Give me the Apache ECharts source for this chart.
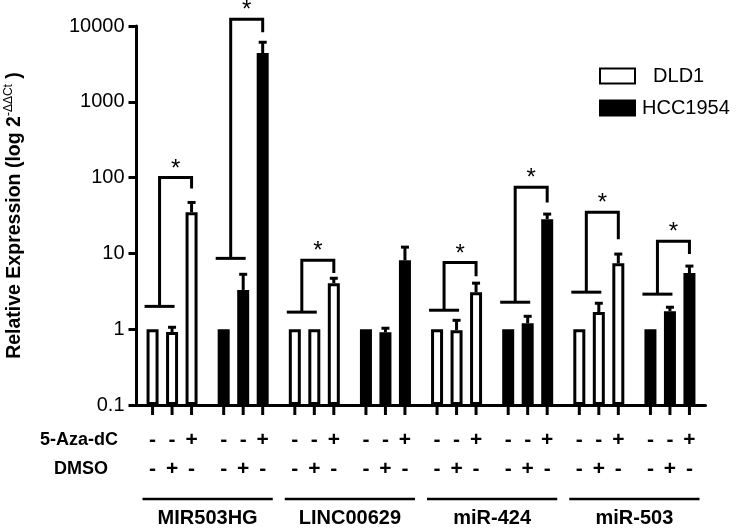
<!DOCTYPE html>
<html>
<head>
<meta charset="utf-8">
<script src="https://cdn.jsdelivr.net/npm/echarts@6/dist/echarts.min.js"></script>
<style>
  html, body { margin: 0; padding: 0; background: #fff; }
  #chart { width: 736px; height: 528px; }
</style>
</head>
<body>
<div id="chart"></div>
<script>
const genes = ['MIR503HG', 'LINC00629', 'miR-424', 'miR-503'];
const cellLines = ['DLD1', 'HCC1954'];
// one group per gene x cell line (DLD1 first, then HCC1954)
const groups = [
    'MIR503HG DLD1', 'MIR503HG HCC1954',
    'LINC00629 DLD1', 'LINC00629 HCC1954',
    'miR-424 DLD1', 'miR-424 HCC1954',
    'miR-503 DLD1', 'miR-503 HCC1954'
];
const azaSigns = ['-', '-', '+'];
const dmsoSigns = ['-', '+', '-'];

// mean relative expression per group
const untreated = [1, 1, 1, 1, 1, 1, 1, 1];
const dmso = [0.92, 3.3, 1.0, 0.91, 0.97, 1.2, 1.68, 1.73];
const aza = [35, 4400, 4.05, 8.1, 3.07, 28.3, 7.4, 5.5];
// upper end of error bars
const dmsoErr = [1.06, 5.3, null, 1.03, 1.31, 1.48, 2.2, 1.95];
const azaErr = [47, 6100, 4.7, 12.1, 4.05, 33, 9.8, 6.8];

// significance brackets (* p < 0.05)
const bracketLow = [2.0, 8.6, 1.68, null, 1.78, 2.27, 3.08, 2.9];
const bracketTop = [100, 12300, 8.1, null, 7.6, 74.6, 35, 14.5];
const bracketEnd = [72, 8300, 5.5, null, 5.0, 47, 15.4, 9.8];

const yTicks = [0.1, 1, 10, 100, 1000, 10000];
const yTickLabels = ['0.1', '1', '10', '100', '1000', '10000'];

const FONT = '"Liberation Sans", Arial, sans-serif';
const BAR_W = 12;
const BAR_STEP = 19.5;

const chart = echarts.init(document.getElementById('chart'));

function txt(x, y, s, size, weight) {
    return {
        type: 'text', x: x, y: y,
        style: {
            text: s, fill: '#000',
            font: (weight || 'bold') + ' ' + size + 'px ' + FONT,
            align: 'center', verticalAlign: 'middle'
        }
    };
}

function seg(points, w) {
    return {
        type: 'polyline',
        shape: { points: points },
        style: { stroke: '#000', lineWidth: w || 3, fill: null, lineJoin: 'miter', lineCap: 'butt' }
    };
}

function renderGroup(params, api) {
    const i = params.dataIndex;
    const p = api.coord([i, 0.1]);
    const cx = p[0], base = p[1];
    const band = api.size([1, 0])[0];
    const xs = [-1, 0, 1].map(k => cx + k * BAR_STEP);
    const means = [untreated[i], dmso[i], aza[i]];
    const errs = [null, dmsoErr[i], azaErr[i]];
    const kids = [];

    xs.forEach((x, k) => {
        kids.push(seg([[x, base], [x, base + 10]]));
        if (errs[k] != null) {
            const y0 = api.coord([i, means[k]])[1];
            const y1 = api.coord([i, errs[k]])[1];
            kids.push(seg([[x, y0], [x, y1]]));
            kids.push(seg([[x - 4, y1], [x + 4, y1]]));
        }
        kids.push(txt(x, base + 35, azaSigns[k], 21));
        kids.push(txt(x, base + 64, dmsoSigns[k], 21));
    });

    if (bracketLow[i] != null) {
        const yl = api.coord([i, bracketLow[i]])[1];
        const yt = api.coord([i, bracketTop[i]])[1];
        const ye = api.coord([i, bracketEnd[i]])[1];
        const xm = xs[0] + 7;
        kids.push(seg([[xm - 15, yl], [xm + 15, yl]]));
        kids.push(seg([[xm, yl], [xm, yt], [xs[2], yt], [xs[2], ye]]));
        kids.push(txt((xm + xs[2]) / 2, yt - 8.5, '*', 24, 'normal'));
    }

    // gene underline spans the DLD1 + HCC1954 pair
    if (i % 2 === 0) {
        kids.push(seg([[cx - band / 2 + 6, base + 94], [cx + band * 1.5 - 6, base + 94]], 2.5));
    }
    return { type: 'group', children: kids };
}

const barColor = p => (p.dataIndex % 2 ? '#000' : '#fff');
const barSeries = (name, data) => ({
    name: name,
    type: 'bar',
    data: data,
    barWidth: BAR_W,
    barGap: '62.5%',
    itemStyle: { color: barColor, borderColor: '#000', borderWidth: 3 }
});

const option = {
    animation: false,
    backgroundColor: '#fff',
    grid: { left: 136.5, right: 30.5, top: 26, bottom: 123, containLabel: false, outerBoundsMode: 'none' },
    legend: {
        data: cellLines,
        orient: 'vertical',
        left: 594, top: 61,
        icon: 'rect',
        itemWidth: 35, itemHeight: 15, itemGap: 12,
        selectedMode: false,
        formatter: n => (n === 'DLD1' ? '  DLD1' : n),
        textStyle: { fontSize: 20, color: '#000', fontFamily: FONT, padding: [0, 0, 0, 2] }
    },
    xAxis: [
        {
            type: 'category',
            data: groups,
            axisLine: { lineStyle: { color: '#000', width: 3 } },
            axisTick: { show: false },
            axisLabel: { show: false }
        },
        {
            type: 'category',
            data: genes,
            position: 'bottom',
            offset: 95,
            axisLine: { show: false },
            axisTick: { show: false },
            axisLabel: { margin: 8, fontSize: 20, fontWeight: 'bold', color: '#000', fontFamily: FONT }
        }
    ],
    yAxis: {
        type: 'log',
        logBase: 10,
        min: 0.1,
        max: 10000,
        startValue: 0.1,
        name: '{t|Relative Expression (log 2}{s|-ΔΔCt}{t| )}',
        nameLocation: 'middle',
        nameRotate: 90,
        nameGap: 112,
        nameTextStyle: {
            rich: {
                t: { fontSize: 19.5, fontWeight: 'bold', color: '#000', fontFamily: FONT, lineHeight: 22, verticalAlign: 'bottom' },
                s: { fontSize: 12, color: '#000', fontFamily: FONT, verticalAlign: 'top', lineHeight: 15 }
            }
        },
        splitLine: { show: false },
        axisLine: { show: true, lineStyle: { color: '#000', width: 3 } },
        axisTick: { show: true, length: 8, lineStyle: { color: '#000', width: 3 } },
        axisLabel: {
            margin: 12,
            fontSize: 20,
            color: '#000',
            fontFamily: FONT,
            formatter: v => {
                const idx = yTicks.findIndex(t => Math.abs(Math.log10(t) - Math.log10(v)) < 1e-6);
                return idx >= 0 ? yTickLabels[idx] : '';
            }
        }
    },
    graphic: [
        { type: 'text', x: 118, y: 440, style: { text: '5-Aza-dC', fill: '#000', font: 'bold 18px ' + FONT, align: 'right', verticalAlign: 'middle' } },
        { type: 'text', x: 108, y: 469, style: { text: 'DMSO', fill: '#000', font: 'bold 18px ' + FONT, align: 'right', verticalAlign: 'middle' } }
    ],
    series: [
        barSeries('untreated', untreated),
        barSeries('DMSO', dmso),
        barSeries('5-Aza-dC', aza),
        {
            name: 'marks',
            type: 'custom',
            renderItem: renderGroup,
            data: groups.map((g, i) => [i, aza[i]]),
            encode: { x: 0, y: 1 },
            clip: false,
            z: 5
        },
        { name: 'DLD1', type: 'scatter', data: [], itemStyle: { color: '#fff', borderColor: '#000', borderWidth: 3, opacity: 1 } },
        { name: 'HCC1954', type: 'scatter', data: [], itemStyle: { color: '#000', borderColor: '#000', borderWidth: 3, opacity: 1 } }
    ]
};

chart.setOption(option);
</script>
</body>
</html>
